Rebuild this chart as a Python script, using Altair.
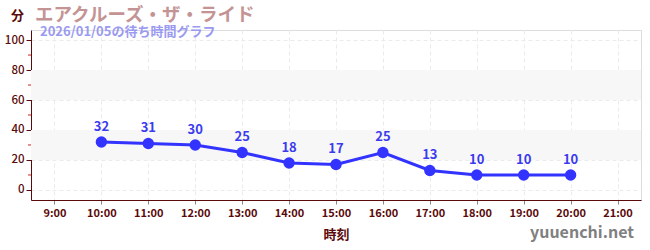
import altair as alt
import pandas as pd

hours = [10, 11, 12, 13, 14, 15, 16, 17, 18, 19, 20]
waits = [32, 31, 30, 25, 18, 17, 25, 13, 10, 10, 10]
tick_hours = [9, 10, 11, 12, 13, 14, 15, 16, 17, 18, 19, 20, 21]
y_ticks = [0, 20, 40, 60, 80, 100]
band_lo = [20, 60]
band_hi = [40, 80]
minor_ticks = [10, 30, 50, 70, 90]
title_text = ["エアクルーズ・ザ・ライド"]
subtitle_text = ["2026/01/05の待ち時間グラフ"]
credit_text = ["yuuenchi.net"]

FONT = "Noto Sans CJK JP"
AX = "#5a0a0a"

df = pd.DataFrame({"hour": hours, "wait": waits})
bands = pd.DataFrame({"lo": band_lo, "hi": band_hi})
minors = pd.DataFrame({"v": minor_ticks})

xscale = alt.Scale(domain=[8.5, 21.5], nice=False, zero=False)
yscale = alt.Scale(domain=[-6.7, 106.7], nice=False, zero=False)

xaxis = alt.Axis(values=tick_hours, labelExpr="datum.value + ':00'", title="時刻",
                 grid=True, gridDash=[4, 3], gridColor="#ebebeb",
                 domainColor=AX, tickColor="#888888", tickSize=4,
                 labelColor=AX, labelFontSize=11, labelFontWeight="bold",
                 titleColor=AX, titleFontSize=13, titleFontWeight="bold", titlePadding=10,
                 labelPadding=3, labelOverlap=False)
yaxis = alt.Axis(values=y_ticks, title="分", titleAngle=0,
                 titleX=-14, titleY=-15, titleAlign="center", titleBaseline="middle",
                 titleColor=AX, titleFontSize=13, titleFontWeight="bold",
                 grid=True, gridDash=[4, 3], gridColor="#ebebeb",
                 domainColor=AX, tickColor=AX, tickSize=5,
                 labelColor=AX, labelFontSize=11.5, labelFontWeight=500,
                 labelPadding=2, labelOverlap=False)

band_layer = alt.Chart(bands).mark_rect(color="#f7f7f7").encode(
    y=alt.Y("lo:Q", scale=yscale, axis=yaxis),
    y2="hi:Q",
    x=alt.value(0), x2=alt.value(610),
)

minor_layer = alt.Chart(minors).mark_rule(color="#cc2222", strokeWidth=1).encode(
    y=alt.Y("v:Q", scale=yscale, axis=yaxis),
    x=alt.value(-3), x2=alt.value(0),
)

base = alt.Chart(df).encode(
    x=alt.X("hour:Q", scale=xscale, axis=xaxis),
    y=alt.Y("wait:Q", scale=yscale, axis=yaxis),
)
line = base.mark_line(color="#3333ff", strokeWidth=3)
pts = base.mark_point(filled=True, color="#3333ff", size=130, opacity=1)
labels = base.mark_text(color="#3b3bef", fontSize=13, fontWeight="bold", dy=-15, font=FONT).encode(
    text="wait:Q")

title_layer = alt.Chart(pd.DataFrame({"t": title_text})).mark_text(
    color="#c49494", fontSize=18.5, fontWeight="bold", align="left", baseline="alphabetic", font=FONT
).encode(text="t:N", x=alt.value(4), y=alt.value(-9))

subtitle_layer = alt.Chart(pd.DataFrame({"t": subtitle_text})).mark_text(
    color="#9a9af0", fontSize=13, fontWeight="bold", align="left", baseline="alphabetic", font=FONT
).encode(text="t:N", x=alt.value(9), y=alt.value(6))

credit_layer = alt.Chart(pd.DataFrame({"t": credit_text})).mark_text(
    color="#808080", fontSize=16, fontWeight="bold", align="right", baseline="middle", font=FONT
).encode(text="t:N", x=alt.value(603), y=alt.value(203))

chart = alt.layer(band_layer, minor_layer, line, pts, labels,
                  title_layer, subtitle_layer, credit_layer).properties(
    width=610, height=170,
    autosize=alt.AutoSizeParams(type="none"),
    padding={"left": 31, "top": 30, "right": 9, "bottom": 50},
).configure_view(stroke=None).configure(font=FONT).configure_axisY(labelOverlap=False)

chart.save("out.html", embed_options={"renderer": "svg", "actions": False})
